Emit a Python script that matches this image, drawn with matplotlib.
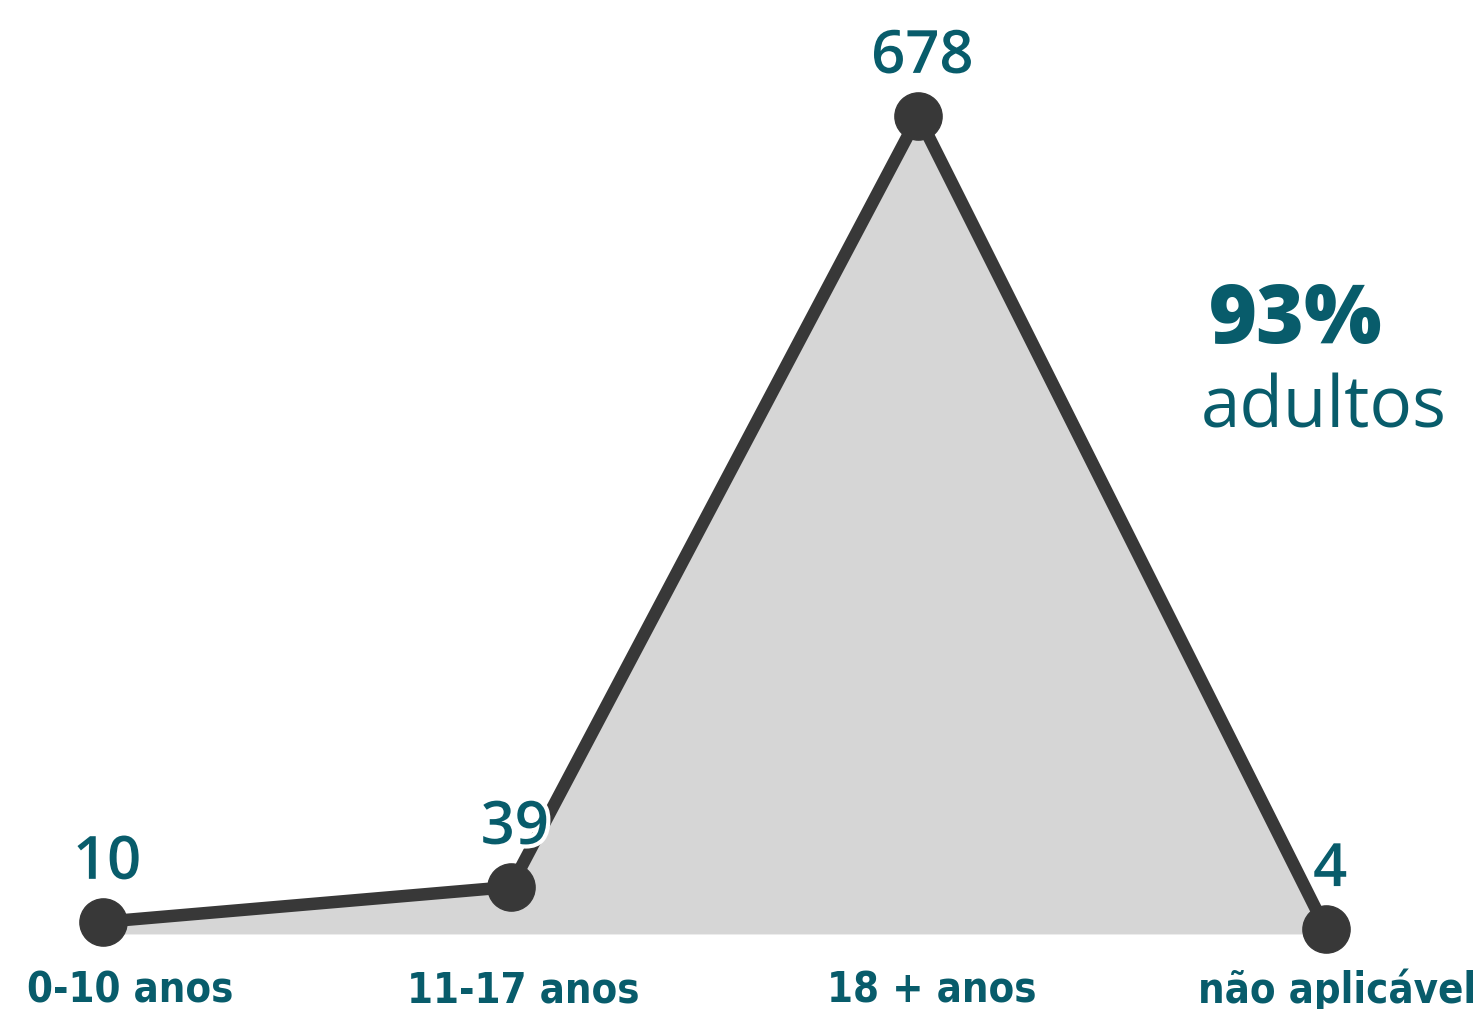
import matplotlib.pyplot as plt
import matplotlib.patheffects as pe
import numpy as np

categorias = ["0-10 anos", "11-17 anos", "18 + anos", "não aplicável"]
valores = [10, 39, 678, 4]
destaque = "93%"
destaque_txt = "adultos"

teal = "#085c6b"
escuro = "#383838"
cinza = "#d6d6d6"

fig = plt.figure(figsize=(14.8, 10.09), dpi=100)
ax = fig.add_axes([0, 0, 1, 1])
ax.set_axis_off()

x = np.arange(len(valores))
ax.fill_between(x, valores, 0, color=cinza, lw=0, zorder=1)
ax.plot(x, valores, color=escuro, lw=9, marker="o", ms=34, zorder=2,
        solid_capstyle="round")

ax.set_xlim(-0.2527, 3.3778)
ax.set_ylim(-62.2, 774.1)

# etichette dei valori sopra i punti
for xi, v in zip(x, valores):
    ax.annotate(str(v), (xi, v), xytext=(3, 31), textcoords="offset points",
                ha="center", va="baseline", fontsize=43, color=teal,
                family="Open Sans", weight="semibold", zorder=3,
                path_effects=[pe.withStroke(linewidth=6, foreground="white")])

# etichette categorie (spostamento a destra come nell'originale)
spost = [0.066, 0.032, 0.032, 0.027]
for xi, c, s in zip(x, categorias, spost):
    ax.text(xi + s, 0.006, c, transform=ax.get_xaxis_transform(),
            ha="center", va="baseline", fontsize=30, color=teal,
            family="DejaVu Sans", stretch="condensed", weight="bold")

ax.text(0.817, 0.66, destaque, transform=ax.transAxes, ha="left",
        va="baseline", fontsize=59, color=teal, family="Open Sans",
        weight="heavy")
ax.text(0.811, 0.576, destaque_txt, transform=ax.transAxes, ha="left",
        va="baseline", fontsize=51, color=teal, family="Open Sans")

fig.savefig("out.png", dpi=100)
